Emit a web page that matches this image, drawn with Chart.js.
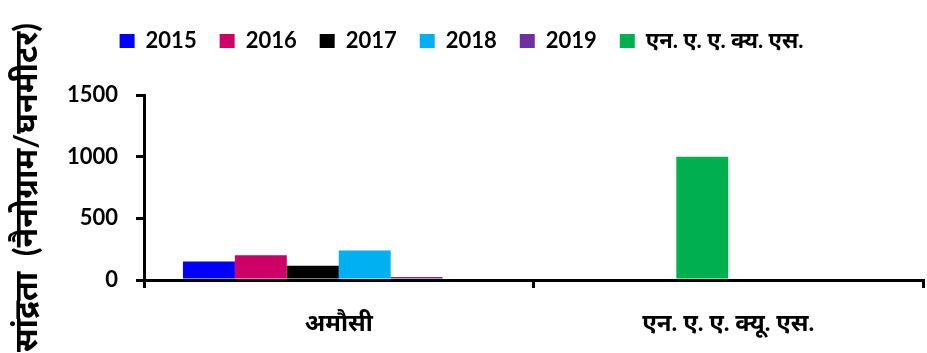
<!DOCTYPE html>
<html>
<head>
<meta charset="utf-8">
<script src="https://cdn.jsdelivr.net/npm/chart.js@4"></script>
<style>
  html, body { margin: 0; padding: 0; background: #fff; }
  #wrap { width: 927px; height: 353px; position: relative; }
</style>
</head>
<body>
<div id="wrap"><canvas id="pm"></canvas></div>
<script>
// Concentration chart: Amausi 2015-2019 vs NAAQS limit

const categories = ['अमौसी', 'एन. ए. ए. क्यू. एस.'];
const seriesNames = ['2015', '2016', '2017', '2018', '2019', 'एन. ए. ए. क्य. एस.'];

// values per category (Amausi, NAAQS)
const v2015 = [150, null];
const v2016 = [200, null];
const v2017 = [115, null];
const v2018 = [240, null];
const v2019 = [25, null];
const naaqs = [null, 1000];   // in the source sheet this bar sits in the 2017 slot

const yTicks = [0, 500, 1000, 1500];

const seriesColors = ['#0000FF', '#CC0066', '#000000', '#00B0F0', '#7030A0', '#00B050'];

const FONT = "Lato, 'Noto Sans', 'DejaVu Sans', sans-serif";

// the 2017 series carries the NAAQS bar in the second category (green point)
const col2017 = v2017.map((v, i) => naaqs[i] != null ? naaqs[i] : v);
const bg2017 = v2017.map((v, i) => naaqs[i] != null ? seriesColors[5] : seriesColors[2]);

const seriesData = [v2015, v2016, col2017, v2018, v2019, [null, null]];

const datasets = seriesNames.map((name, i) => ({
  label: name,
  data: seriesData[i],
  backgroundColor: i === 2 ? bg2017 : seriesColors[i],
  borderWidth: 0,
  barPercentage: 1.0,
  categoryPercentage: 0.8
}));

// legend takes a fixed band at the top
const legendBand = {
  id: 'legendBand',
  beforeInit(chart) {
    const fit = chart.legend.fit;
    chart.legend.fit = function () {
      fit.call(this);
      this.height = 88;
    };
  }
};

new Chart(document.getElementById('pm'), {
  type: 'bar',
  data: { labels: categories, datasets: datasets },
  plugins: [legendBand],
  options: {
    responsive: true,
    maintainAspectRatio: false,
    animation: false,
    layout: { padding: { top: 7, right: 4, left: 0, bottom: 0 } },
    plugins: {
      tooltip: { enabled: false },
      legend: {
        position: 'top',
        labels: {
          color: '#000',
          boxWidth: 15,
          boxHeight: 14,
          padding: 23,
          font: { family: FONT, size: 22, weight: 'bold' },
          generateLabels: (chart) => seriesNames.map((name, i) => ({
            text: name,
            fillStyle: seriesColors[i],
            strokeStyle: seriesColors[i],
            lineWidth: 0,
            hidden: false,
            datasetIndex: i
          }))
        }
      }
    },
    scales: {
      x: {
        offset: true,
        afterFit: s => { s.height = 73; },
        grid: {
          drawOnChartArea: false,
          offset: true,
          color: '#000',
          lineWidth: 3,
          tickLength: 8
        },
        border: { color: '#000', width: 3 },
        ticks: {
          color: '#000',
          padding: 21,
          font: { family: FONT, size: 24, weight: 'bold' }
        }
      },
      y: {
        min: 0,
        max: 1500,
        afterFit: s => { s.width = 144; },
        afterBuildTicks: s => { s.ticks = yTicks.map(v => ({ value: v })); },
        grid: {
          drawOnChartArea: false,
          color: '#000',
          lineWidth: 3,
          tickLength: 8
        },
        border: { color: '#000', width: 3 },
        ticks: {
          color: '#000',
          padding: 18,
          callback: v => String(v),
          font: { family: FONT, size: 22, weight: 'bold' }
        },
        title: {
          display: true,
          text: 'सांद्रता  (नैनोग्राम/घनमीटर)',
          color: '#000',
          padding: { top: 7, bottom: 0 },
          font: { family: FONT, size: 32, weight: 'bold' }
        }
      }
    }
  }
});
</script>
</body>
</html>
